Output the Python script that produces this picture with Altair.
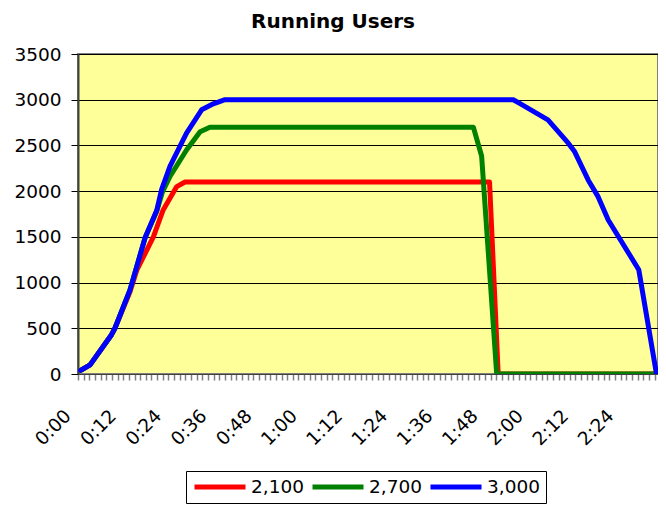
import altair as alt
import pandas as pd

SERIES = ["2,100", "2,700", "3,000"]
COLORS = ["#FF0000", "#008000", "#0000FF"]

# time in minutes, running users
red_t = [0.7, 3.2, 8.9, 9.8, 13.8, 15.6, 20.0, 22.6, 26.2, 28.4, 109.2, 111.5, 153.0]
red_v = [40, 100, 430, 500, 900, 1135, 1500, 1795, 2050, 2100, 2100, 0, 0]

green_t = [0.7, 3.2, 8.9, 9.8, 13.8, 17.8, 20.9, 22.4, 24.4, 28.8, 32.4, 35.0, 104.9, 107.1, 111.1, 153.0]
green_v = [40, 100, 430, 500, 920, 1490, 1780, 1990, 2160, 2450, 2650, 2700, 2700, 2385, 0, 0]

blue_t = [0.7, 3.2, 8.9, 9.8, 13.8, 17.8, 20.9, 22.2, 24.4, 28.8, 32.8, 35.9, 39.0,
          115.5, 117.2, 124.7, 130.1, 131.8, 135.4, 138.0, 140.7, 148.8, 153.5]
blue_v = [40, 100, 430, 500, 920, 1490, 1790, 2020, 2270, 2635, 2890, 2955, 3000,
          3000, 2960, 2780, 2525, 2430, 2120, 1940, 1685, 1140, 0]

X_TICKS = [i * 1.5 for i in range(103)]
Y_TICKS = [0, 500, 1000, 1500, 2000, 2500, 3000, 3500]

rows = []
for name, ts, vs in zip(SERIES, [red_t, green_t, blue_t], [red_v, green_v, blue_v]):
    for t, v in zip(ts, vs):
        rows.append({"series": name, "t": t, "v": v})
df = pd.DataFrame(rows)

FONT = "DejaVu Sans"

label_expr = ("datum.value % 12 == 0 ? (floor(datum.value / 60) + ':' + "
              "(datum.value % 60 < 10 ? '0' : '') + (datum.value % 60)) : ''")

chart = alt.Chart(df).mark_line(
    strokeWidth=5, strokeJoin="round", strokeCap="round", clip=True
).encode(
    x=alt.X("t:Q",
            scale=alt.Scale(domain=[0, 153.9], nice=False, zero=False),
            axis=alt.Axis(values=X_TICKS, labelExpr=label_expr, labelAngle=-45,
                          labelAlign="right", labelBaseline="top", labelPadding=26,
                          labelOffset=-17, tickSize=6, tickColor="#808080", tickWidth=1.5,
                          domainColor="#404040", domainWidth=1, grid=False, title=None,
                          labelFontSize=18.5, labelOverlap=False, labelFlush=False,
                          labelColor="black", labelFont=FONT)),
    y=alt.Y("v:Q",
            scale=alt.Scale(domain=[0, 3500], nice=False),
            axis=alt.Axis(values=Y_TICKS, format="d", grid=True, gridColor="black",
                          gridWidth=1, tickSize=7, tickColor="black",
                          domainColor="#404040", domainWidth=2, labelPadding=10,
                          labelFontSize=18.5, labelColor="black", labelFont=FONT,
                          title=None)),
    color=alt.Color("series:N",
                    scale=alt.Scale(domain=SERIES, range=COLORS),
                    legend=alt.Legend(title=None, orient="none", legendX=108, legendY=417,
                                      direction="horizontal", columns=3,
                                      symbolType="stroke", symbolSize=2601,
                                      symbolStrokeWidth=5, clipHeight=20,
                                      labelFontSize=18.5,
                                      labelFont=FONT, labelColor="black",
                                      labelOffset=3, columnPadding=6, padding=6,
                                      strokeColor="black")),
).properties(
    width=580,
    height=320,
    title=alt.TitleParams("Running Users", fontSize=20, fontWeight="bold", font=FONT,
                          anchor="middle", dx=-35, dy=21, offset=18, baseline="alphabetic",
                          color="black"),
    autosize=alt.AutoSizeParams(type="none"),
    padding={"left": 70, "top": 46, "right": 0, "bottom": 130},
).configure_view(
    fill="#FFFF99", stroke="#808080", strokeWidth=2
)

chart.save("out.html", embed_options={"renderer": "svg", "actions": False})
